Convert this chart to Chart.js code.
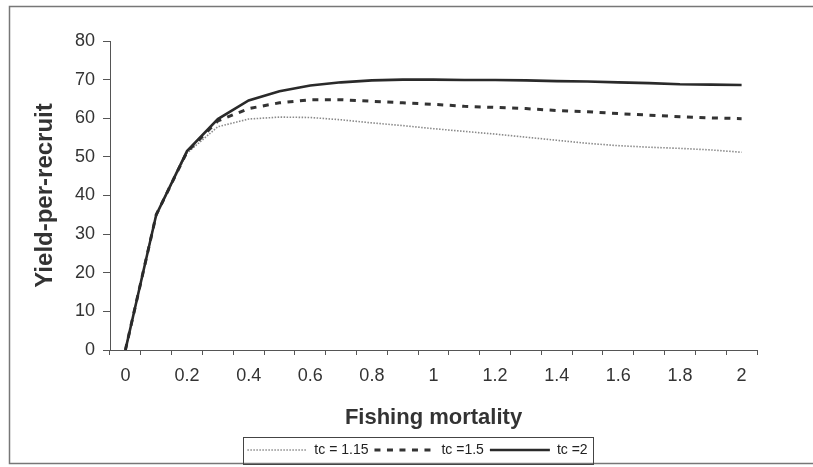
<!DOCTYPE html>
<html lang="en">
<head>
  <meta charset="UTF-8">
  <title>Yield-per-recruit vs fishing mortality</title>
  <script src="https://cdn.jsdelivr.net/npm/chart.js"></script>
  <style>
    html, body { margin: 0; padding: 0; background: #fff; }
    #wrap { width: 813px; height: 467px; }
  </style>
</head>
<body>
  <div id="wrap"><canvas id="ypr" width="813" height="467"></canvas></div>

  <script>
    // fishing mortality F = 0 .. 2, step 0.1
    const fishingMortality = ['0', '0.1', '0.2', '0.3', '0.4', '0.5', '0.6', '0.7', '0.8', '0.9', '1',
                              '1.1', '1.2', '1.3', '1.4', '1.5', '1.6', '1.7', '1.8', '1.9', '2'];
    const yieldTc115 = [0, 35, 51, 57.8, 59.8, 60.3, 60.2, 59.6, 58.8, 58.1, 57.3,
                        56.6, 55.9, 55.1, 54.3, 53.5, 52.9, 52.5, 52.2, 51.8, 51.2];
    const yieldTc15 = [0, 35, 51.3, 59.3, 62.5, 64, 64.8, 64.8, 64.4, 64, 63.6,
                       63.1, 62.8, 62.5, 62, 61.7, 61.2, 60.8, 60.4, 60.1, 59.9];
    const yieldTc2 = [0, 35, 51.5, 59.8, 64.6, 67, 68.5, 69.3, 69.8, 70, 70,
                      69.9, 69.9, 69.8, 69.6, 69.5, 69.3, 69.1, 68.8, 68.7, 68.6];
    const seriesLabels = ['tc = 1.15', 'tc =1.5', 'tc =2'];
    const yTicks = [0, 10, 20, 30, 40, 50, 60, 70, 80];

    const fontFamily = '"Liberation Sans", Arial, sans-serif';

    // white page with the scanned frame around it, and a box round the legend
    const framePlugin = {
      id: 'frame',
      afterLayout(chart) {
        // legend sits a little left of the plot centre in the original
        chart.legend.left -= 16;
        chart.legend.right -= 16;
      },
      beforeDraw(chart) {
        const c = chart.ctx;
        c.save();
        c.fillStyle = '#fff';
        c.fillRect(0, 0, chart.width, chart.height);
        c.strokeStyle = '#777';
        c.lineWidth = 1.5;
        c.strokeRect(9.5, 6.5, chart.width + 20, 457);
        c.restore();
      },
      afterDraw(chart) {
        const lg = chart.legend;
        if (!lg || !lg.legendHitBoxes.length) return;
        const boxes = lg.legendHitBoxes;
        const left = Math.min(...boxes.map(b => b.left)) - 4;
        const right = Math.max(...boxes.map(b => b.left + b.width)) + 6;
        const c = chart.ctx;
        c.save();
        c.strokeStyle = '#444';
        c.lineWidth = 1;
        c.strokeRect(Math.round(left) + 0.5, Math.round(lg.top) + 0.5,
                     Math.round(right - left), Math.round(lg.bottom - lg.top) - 3);
        c.restore();
      }
    };

    // legend samples use the dataset's own dash pattern and width
    function legendLabels(chart) {
      const items = Chart.defaults.plugins.legend.labels.generateLabels(chart);
      return items.map(item => {
        const ds = chart.data.datasets[item.datasetIndex];
        item.lineDash = ds.borderDash || [];
        item.lineWidth = ds.borderWidth;
        item.strokeStyle = ds.borderColor;
        return item;
      });
    }

    const ctx = document.getElementById('ypr').getContext('2d');
    const yprChart = new Chart(ctx, {
      type: 'line',
      data: {
        labels: fishingMortality,
        datasets: [
          {
            label: seriesLabels[0],
            data: yieldTc115,
            borderColor: '#8a8a8a',
            borderWidth: 1.6,
            borderDash: [1.5, 1.5],
            order: 2
          },
          {
            label: seriesLabels[1],
            data: yieldTc15,
            borderColor: '#333',
            borderWidth: 3,
            borderDash: [6, 6.5],
            order: 1
          },
          {
            label: seriesLabels[2],
            data: yieldTc2,
            borderColor: '#2a2a2a',
            borderWidth: 2.6,
            order: 0
          }
        ]
      },
      options: {
        responsive: false,
        animation: false,
        layout: { padding: { top: 41, right: 56, left: 20, bottom: 0 } },
        elements: {
          point: { radius: 0 },
          line: { tension: 0, fill: false }
        },
        scales: {
          x: {
            type: 'category',
            offset: true,
            grid: { offset: true, drawOnChartArea: false, tickLength: 5, color: '#555' },
            border: { color: '#555', width: 1 },
            ticks: {
              autoSkip: false,
              maxRotation: 0,
              padding: 10,
              color: '#333',
              font: { family: fontFamily, size: 18 },
              callback: (v, i) => (i % 2 === 0 ? fishingMortality[i] : '')
            },
            title: {
              display: true,
              text: 'Fishing mortality',
              color: '#333',
              padding: { top: 4, bottom: 6 },
              font: { family: fontFamily, size: 22, weight: 'bold' }
            },
            afterFit: (scale) => { scale.height = 87; }
          },
          y: {
            min: 0,
            max: 80,
            afterBuildTicks: (scale) => { scale.ticks = yTicks.map(v => ({ value: v })); },
            grid: { drawOnChartArea: false, tickLength: 7, color: '#555' },
            border: { color: '#555', width: 1 },
            ticks: {
              padding: 8,
              color: '#333',
              font: { family: fontFamily, size: 18 }
            },
            title: {
              display: true,
              text: 'Yield-per-recruit',
              color: '#333',
              padding: { top: 11, bottom: 4 },
              font: { family: fontFamily, size: 24, weight: 'bold' }
            },
            afterFit: (scale) => { scale.width = 90; }
          }
        },
        plugins: {
          legend: {
            position: 'bottom',
            fullSize: false,
            labels: {
              usePointStyle: true,
              pointStyle: 'line',
              pointStyleWidth: 60,
              padding: 6,
              color: '#222',
              font: { family: fontFamily, size: 14 },
              generateLabels: legendLabels,
              sort: (a, b) => a.datasetIndex - b.datasetIndex
            }
          },
          tooltip: { enabled: false }
        }
      },
      plugins: [framePlugin]
    });
  </script>
</body>
</html>
